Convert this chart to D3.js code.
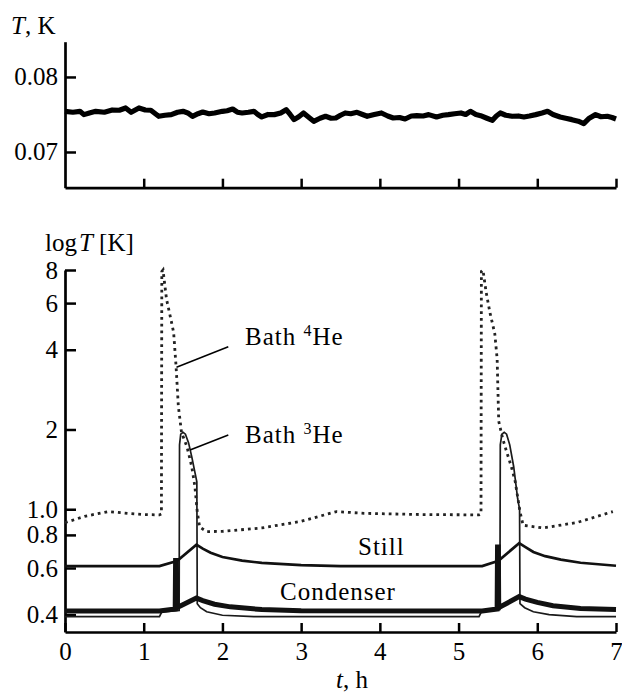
<!DOCTYPE html>
<html>
<head>
<meta charset="utf-8">
<script src="https://cdn.jsdelivr.net/npm/d3@7"></script>
<style>
body { margin: 0; background: #fff; }
svg text { font-family: 'Liberation Serif', 'Times New Roman', Times, 'Nimbus Roman', 'DejaVu Serif', serif; fill: #000; }
</style>
</head>
<body>
<div id="chart"></div>
<script>
// top panel: mixing chamber temperature, [t (h), T (K)]
var mixTemp = [
	[0.00,0.07542],[0.10,0.07530],[0.19,0.07542],[0.24,0.07498],[0.31,0.07520],[0.39,0.07542],[0.50,0.07530],
	[0.60,0.07560],[0.69,0.07556],[0.77,0.07587],[0.84,0.07529],[0.94,0.07587],[1.02,0.07560],[1.09,0.07556],
	[1.19,0.07476],[1.27,0.07490],[1.35,0.07498],[1.43,0.07530],[1.50,0.07542],[1.56,0.07520],[1.62,0.07476],
	[1.69,0.07510],[1.75,0.07533],[1.83,0.07510],[1.90,0.07520],[2.00,0.07542],[2.06,0.07550],[2.13,0.07573],
	[2.19,0.07530],[2.25,0.07520],[2.33,0.07530],[2.40,0.07542],[2.45,0.07500],[2.50,0.07467],[2.58,0.07500],
	[2.66,0.07498],[2.74,0.07520],[2.81,0.07564],[2.86,0.07500],[2.91,0.07431],[2.97,0.07470],[3.03,0.07520],
	[3.10,0.07460],[3.16,0.07409],[3.24,0.07450],[3.31,0.07476],[3.38,0.07450],[3.44,0.07453],[3.50,0.07490],
	[3.56,0.07520],[3.63,0.07510],[3.71,0.07529],[3.78,0.07500],[3.84,0.07476],[3.93,0.07500],[4.02,0.07520],
	[4.10,0.07480],[4.17,0.07453],[4.25,0.07460],[4.32,0.07440],[4.40,0.07480],[4.47,0.07484],[4.55,0.07480],
	[4.62,0.07498],[4.72,0.07467],[4.80,0.07490],[4.87,0.07498],[4.95,0.07510],[5.03,0.07520],[5.09,0.07500],
	[5.15,0.07542],[5.22,0.07500],[5.28,0.07484],[5.36,0.07450],[5.43,0.07422],[5.48,0.07480],[5.53,0.07520],
	[5.60,0.07490],[5.68,0.07476],[5.76,0.07480],[5.83,0.07467],[5.90,0.07480],[5.98,0.07498],[6.06,0.07520],
	[6.13,0.07542],[6.20,0.07500],[6.29,0.07467],[6.36,0.07450],[6.44,0.07431],[6.52,0.07410],[6.59,0.07378],
	[6.66,0.07450],[6.74,0.07498],[6.81,0.07470],[6.89,0.07476],[6.95,0.07460],[7.00,0.07440]
];

// bottom panel series, [t (h), T (K)]
var bath4He = [
	[0,0.89],[0.25,0.94],[0.55,0.98],[0.8,0.965],[1.0,0.955],[1.2,0.952],[1.225,0.96],[1.23,7.9],
	[1.245,8.0],[1.29,6.2],[1.34,5.3],[1.38,4.65],[1.41,3.5],[1.44,2.45],[1.48,1.95],[1.55,1.72],
	[1.61,1.45],[1.65,1.22],[1.68,0.98],[1.71,0.857],[1.8,0.823],[2.0,0.825],[2.5,0.85],[3.0,0.9],
	[3.45,0.98],[3.8,0.965],[4.5,0.955],[5.26,0.952],[5.285,0.96],[5.29,7.9],[5.31,8.0],[5.35,6.6],
	[5.40,5.5],[5.46,4.6],[5.49,3.7],[5.51,2.15],[5.56,1.85],[5.61,1.65],[5.67,1.45],[5.72,1.27],
	[5.78,0.98],[5.82,0.87],[6.07,0.85],[6.5,0.89],[6.96,0.98]
];
var bath3He = [
	[0,0.393],[1.20,0.393],[1.23,0.41],[1.45,0.415],[1.455,1.75],[1.47,1.92],[1.50,1.95],[1.53,1.92],
	[1.57,1.78],[1.61,1.58],[1.65,1.38],[1.675,1.27],[1.68,0.44],[1.72,0.425],[1.8,0.41],[2.0,0.398],
	[2.4,0.393],[5.26,0.393],[5.29,0.41],[5.525,0.418],[5.53,1.75],[5.55,1.92],[5.58,1.95],[5.61,1.92],
	[5.65,1.75],[5.70,1.45],[5.75,1.1],[5.775,1.0],[5.78,0.44],[5.84,0.425],[5.95,0.41],[6.15,0.40],
	[6.5,0.393],[7,0.393]
];
var still = [
	[0,0.61],[1.2,0.61],[1.4,0.635],[1.43,0.64],[1.67,0.735],[1.75,0.71],[1.85,0.685],[2.0,0.66],
	[2.25,0.64],[2.5,0.627],[3.0,0.615],[3.5,0.61],[5.3,0.61],[5.48,0.635],[5.51,0.64],[5.77,0.745],
	[5.85,0.72],[5.95,0.69],[6.1,0.665],[6.3,0.645],[6.55,0.628],[7,0.612]
];
var condenser = [
	[0,0.413],[1.2,0.413],[1.40,0.42],[1.405,0.64],[1.415,0.64],[1.42,0.425],[1.67,0.462],[1.75,0.452],
	[1.9,0.438],[2.1,0.428],[2.5,0.418],[3,0.414],[5.3,0.413],[5.49,0.42],[5.495,0.72],[5.505,0.72],
	[5.51,0.425],[5.77,0.468],[5.85,0.458],[6.0,0.445],[6.2,0.432],[6.55,0.422],[7,0.418]
];

var xTicks = [0,1,2,3,4,5,6,7];
var topTicks = [0.07,0.08];
var topTickLabels = ["0.07","0.08"];
var logTicks = [0.4,0.6,0.8,1.0,2,4,6,8];
var logTickLabels = ["0.4","0.6","0.8","1.0","2","4","6","8"];

var width = 622, height = 692;
var serif = "'Liberation Serif', 'Times New Roman', Times, 'Nimbus Roman', 'DejaVu Serif', serif";

var svg = d3.select("#chart")
	.append("svg")
	.attr("width", width)
	.attr("height", height)
	.attr("font-family", serif);

var xScale = d3.scaleLinear().domain([0,7]).range([65,616]);
var yTop = d3.scaleLinear().domain([0.06524,0.0847]).range([187.7,41.7]);
var yBot = d3.scaleLog().domain([0.344,8]).range([632,270]);

function styleAxis(g){
	g.attr("font-family", serif).attr("font-size", 25);
	g.select(".domain").attr("stroke","#000").attr("stroke-width",2.7);
	g.selectAll(".tick line").attr("stroke","#000").attr("stroke-width",2.5);
	g.selectAll(".tick text").attr("fill","#000");
}

// ---- top panel ----
svg.append("g")
	.attr("transform","translate(0,187.7)")
	.call(d3.axisBottom(xScale).tickValues(xTicks.slice(1)).tickSizeInner(-9).tickSizeOuter(0).tickFormat(""))
	.call(styleAxis);

svg.append("g")
	.attr("transform","translate(65,0)")
	.call(d3.axisLeft(yTop).tickValues(topTicks).tickSizeInner(-11).tickSizeOuter(0).tickPadding(7)
		.tickFormat(function(d,i){ return topTickLabels[i]; }))
	.call(styleAxis);

svg.append("path")
	.datum(mixTemp)
	.attr("fill","none")
	.attr("stroke","#000")
	.attr("stroke-width",5.2)
	.attr("stroke-linejoin","round")
	.attr("d", d3.line().x(function(d){ return xScale(d[0]); }).y(function(d){ return yTop(d[1]); }));

var tl = svg.append("text").attr("x",11).attr("y",34).attr("font-size",25);
tl.append("tspan").attr("font-style","italic").text("T");
tl.append("tspan").text(", K");

// ---- bottom panel ----
svg.append("g")
	.attr("transform","translate(0,632)")
	.call(d3.axisBottom(xScale).tickValues(xTicks).tickSizeInner(-9).tickSizeOuter(0).tickPadding(10)
		.tickFormat(function(d){ return d; }))
	.call(styleAxis);

svg.append("g")
	.attr("transform","translate(65,0)")
	.call(d3.axisLeft(yBot).tickValues(logTicks).tickSizeInner(-11).tickSizeOuter(0).tickPadding(7)
		.tickFormat(function(d,i){ return logTickLabels[i]; }))
	.call(styleAxis);

var line = d3.line()
	.x(function(d){ return xScale(d[0]); })
	.y(function(d){ return yBot(d[1]); });

svg.append("path").datum(bath3He)
	.attr("fill","none").attr("stroke","#1a1a1a").attr("stroke-width",1.7)
	.attr("d", line);

svg.append("path").datum(still)
	.attr("fill","none").attr("stroke","#111").attr("stroke-width",2.7)
	.attr("d", line);

svg.append("path").datum(condenser)
	.attr("fill","none").attr("stroke","#111").attr("stroke-width",5)
	.attr("d", line);

svg.append("path").datum(bath4He)
	.attr("fill","none").attr("stroke","#222").attr("stroke-width",2.8)
	.attr("stroke-dasharray","2.8,4")
	.attr("d", line);

// y label
var ll = svg.append("text").attr("x",45).attr("y",251).attr("font-size",25);
ll.append("tspan").text("log");
ll.append("tspan").attr("dx",2).attr("font-style","italic").text("T");
ll.append("tspan").text(" [K]");

// x label
var xl = svg.append("text").attr("x",336).attr("y",688).attr("font-size",25);
xl.append("tspan").attr("font-style","italic").text("t");
xl.append("tspan").text(", h");

// annotations
function label(x, y, main, sup, rest){
	var t = svg.append("text").attr("x",x).attr("y",y).attr("font-size",25).attr("letter-spacing",1);
	t.append("tspan").text(main);
	if (sup) {
		t.append("tspan").attr("dy",-9).attr("font-size",16).text(sup);
		t.append("tspan").attr("dy",9).text(rest);
	}
}
label(245, 345, "Bath ", "4", "He");
label(245, 443, "Bath ", "3", "He");
label(358, 555, "Still");
label(280, 600, "Condenser");

svg.append("line").attr("x1",228.3).attr("y1",346.7).attr("x2",176.5).attr("y2",367.3)
	.attr("stroke","#000").attr("stroke-width",1.5);
svg.append("line").attr("x1",228.3).attr("y1",435).attr("x2",190).attr("y2",450)
	.attr("stroke","#000").attr("stroke-width",1.5);
</script>
</body>
</html>
